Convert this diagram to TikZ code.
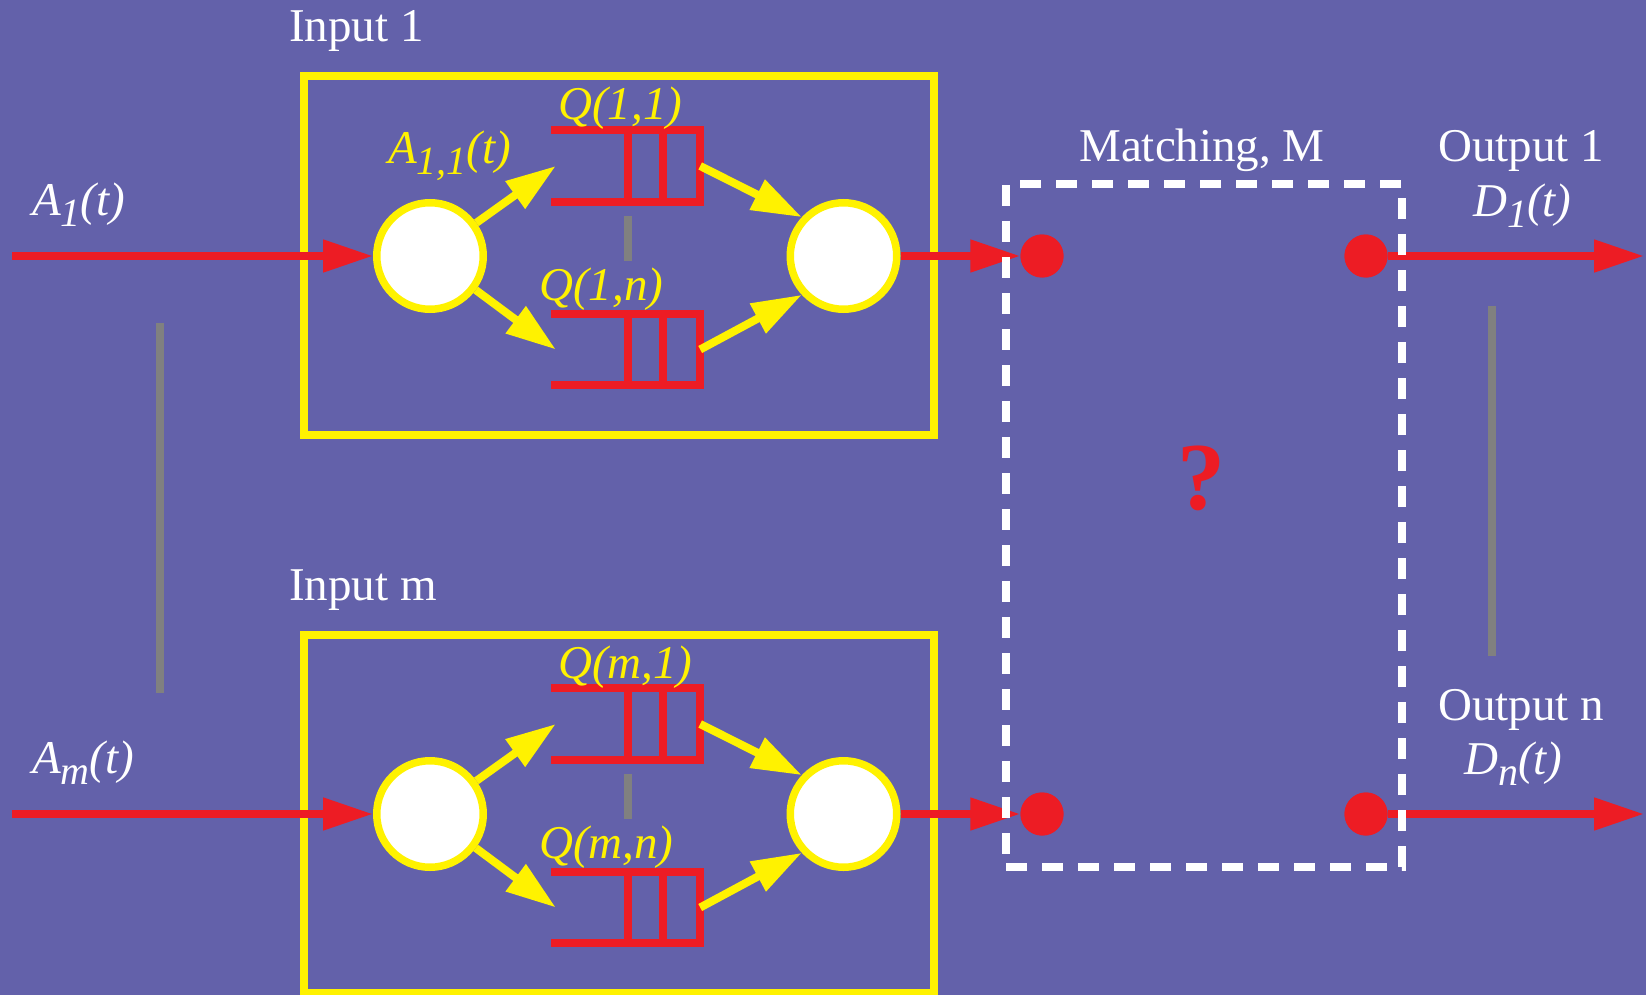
\documentclass[tikz,border=0pt]{standalone}
\usepackage{fontspec}
\setmainfont{Liberation Serif}
\usetikzlibrary{arrows.meta}
\definecolor{bg}{RGB}{99,97,170}
\definecolor{myred}{RGB}{237,28,36}
\definecolor{myyellow}{RGB}{255,242,0}
\definecolor{mygray}{RGB}{128,128,128}
\newcommand{\lowsub}[1]{\raisebox{-11pt}{\fontsize{40}{40}\selectfont #1}}
\tikzset{
  lbl/.style={inner sep=0pt, anchor=base west},
  wlbl/.style={lbl, text=white, font=\fontsize{47}{56}\selectfont},
  wital/.style={lbl, text=white, font=\fontsize{47}{56}\selectfont\itshape},
  ylbl/.style={lbl, text=myyellow, font=\fontsize{47}{56}\selectfont\itshape},
  circ/.style={circle, draw=myyellow, fill=white, line width=7.5pt, minimum size=106.5pt, inner sep=0pt},
  dot/.style={circle, fill=myred, minimum size=43pt, inner sep=0pt},
  qbox/.style={inner sep=0pt, minimum width=149pt, minimum height=72pt},
  qline/.style={draw=myred, line width=7.5pt},
  ybox/.style={draw=myyellow, line width=8pt},
  yarr/.style={draw=myyellow, line width=8pt, -{Triangle[length=50pt,width=32pt]}},
  rarr/.style={draw=myred, line width=8pt, -{Triangle[length=50pt,width=31pt]}},
  gline/.style={draw=mygray, line width=7.5pt},
  mbox/.style={draw=white, line width=7.5pt, dash pattern=on 21pt off 15pt, minimum width=396pt, minimum height=683pt, inner sep=0pt},
}
\begin{document}
\begin{tikzpicture}[x=1pt,y=-1pt]
\useasboundingbox (0,0) rectangle (1646,995);
\fill[bg] (0,0) rectangle (1646,995);

% gray ellipsis bars
\draw[gline] (160,323) -- (160,693);
\draw[gline] (1492,306) -- (1492,656);

\foreach \r/\c/\dy/\dx in {1/1/0/1473, m/n/558/1464}{
  % input box
  \draw[ybox] (304,76.5+\dy) rectangle (934,435+\dy);
  \node[wlbl] (inlbl\r) at (289,42+\dy) {Input \r};
  % queues
  \node[qbox] (qa\r) at (625.5,166+\dy) {};
  \node[qbox, minimum height=71pt] (qb\r) at (625.5,349.5+\dy) {};
  \foreach \q in {qa\r,qb\r}{
    \draw[qline] (\q.north west) -- (\q.north east) -- (\q.south east) -- (\q.south west);
    \draw[qline] ([xshift=2.5pt]\q.north) -- ([xshift=2.5pt]\q.south);
    \draw[qline] ([xshift=37.5pt]\q.north) -- ([xshift=37.5pt]\q.south);
  }
  \draw[gline] (628,216+\dy) -- (628,261+\dy);
  \node[ylbl] (qla\r) at (558,120+\dy) {Q(\r,1)};
  \node[ylbl] (qlb\r) at (539,300+\dy) {Q(\r,n)};
  % circles
  \node[circ] (s\r) at (430,256+\dy) {};
  \node[circ] (t\r) at (843.5,256+\dy) {};
  % yellow arrows
  \draw[yarr] (s\r) -- ([xshift=5pt]qa\r.west);
  \draw[yarr] (s\r) -- ([xshift=5pt]qb\r.west);
  \draw[yarr] (qa\r.east) -- (t\r.137);
  \draw[yarr] (qb\r.east) -- (t\r.223);
  % red arrows
  \coordinate (in\r) at (12,256+\dy);
  \coordinate (o\c) at (1644,256+\dy);
  \node[dot] (d\r) at (1042,256+\dy) {};
  \node[dot] (e\c) at (1366,256+\dy) {};
  \draw[rarr] (in\r) -- (s\r);
  \draw[rarr] (t\r) -- (d\r);
  \draw[rarr] (e\c) -- (o\c);
  % labels
  \node[wital] (al\r) at (32,215+\dy) {A\lowsub{\r}(t)};
  \node[wlbl, anchor=base] (outl\c) at (1521,162+\dy) {Output \c};
  \node[wital] (dl\c) at (\dx,216+\dy) {D\lowsub{\c}(t)};
}
\node[ylbl] (a11) at (388,164) {A\lowsub{1,1}(t)};

% matching box
\node[mbox] (M) at (1204,525.5) {};
\node[wlbl, anchor=base] (mlbl) at (1202,162) {Matching, M};
\node[inner sep=0pt, text=myred, font=\fontsize{96}{110}\selectfont\bfseries] (qm) at (1201,478) {?};
% redraw dots above the dashed box
\foreach \r/\c in {1/1, m/n}{
  \fill[myred] (d\r) circle (21.5pt);
  \fill[myred] (e\c) circle (21.5pt);
}
\end{tikzpicture}
\end{document}
